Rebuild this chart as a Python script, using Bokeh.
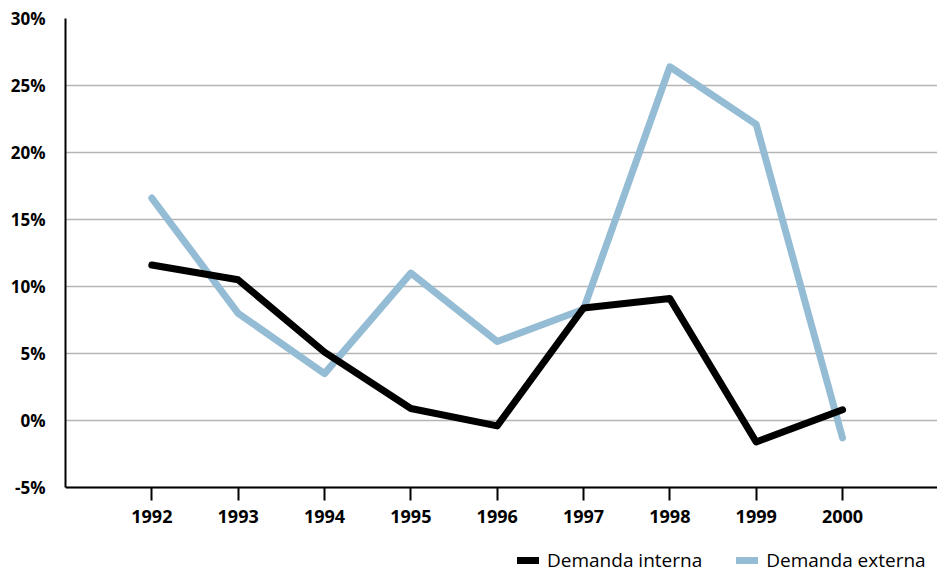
from bokeh.plotting import figure
from bokeh.models import FixedTicker, PrintfTickFormatter, Legend, LegendItem
from bokeh.embed import file_html
from bokeh.resources import INLINE

years = [1992, 1993, 1994, 1995, 1996, 1997, 1998, 1999, 2000]
demanda_interna = [11.6, 10.5, 5.1, 0.9, -0.4, 8.4, 9.1, -1.6, 0.8]
demanda_externa = [16.6, 8.0, 3.5, 11.0, 5.9, 8.3, 26.4, 22.1, -1.3]
y_ticks = [-5, 0, 5, 10, 15, 20, 25, 30]

FONT = "Open Sans"

# frame extends below the -5% baseline to leave room for tick labels and legend
p = figure(width=937, height=576, x_range=(1991, 2001.1), y_range=(-11.64, 30),
           output_backend="svg", toolbar_location=None,
           min_border_left=65, min_border_top=18, min_border_right=0, min_border_bottom=0)
p.outline_line_color = None
p.background_fill_color = "white"

r_ext = p.line(years, demanda_externa, line_color="#94bcd4", line_width=7,
               line_cap="round", line_join="round")
r_int = p.line(years, demanda_interna, line_color="black", line_width=7,
               line_cap="round", line_join="round")

p.xgrid.grid_line_color = None
p.ygrid.ticker = FixedTicker(ticks=y_ticks)
p.ygrid.grid_line_color = "#b5b5b5"
p.ygrid.grid_line_width = 1.5

p.xaxis.fixed_location = -5
p.xaxis.ticker = FixedTicker(ticks=years)
p.xaxis.major_tick_out = 13
p.xaxis.major_tick_in = 0
p.xaxis.minor_tick_line_color = None
p.xaxis.axis_line_width = 2
p.xaxis.major_tick_line_width = 2
p.xaxis.major_label_standoff = 9
p.xaxis.major_label_text_font = FONT
p.xaxis.major_label_text_font_style = "bold"
p.xaxis.major_label_text_font_size = "18px"
p.xaxis.major_label_text_color = "black"

p.yaxis.ticker = FixedTicker(ticks=y_ticks)
p.yaxis.bounds = (-5, 30)
p.yaxis.formatter = PrintfTickFormatter(format="%d%%")
p.yaxis.major_tick_out = 0
p.yaxis.major_tick_in = 0
p.yaxis.minor_tick_line_color = None
p.yaxis.axis_line_width = 2
p.yaxis.major_label_standoff = 20
p.yaxis.major_label_text_font = FONT
p.yaxis.major_label_text_font_style = "bold"
p.yaxis.major_label_text_font_size = "17px"
p.yaxis.major_label_text_color = "black"

legend = Legend(items=[LegendItem(label="Demanda interna", renderers=[r_int]),
                       LegendItem(label="Demanda externa", renderers=[r_ext])],
                orientation="horizontal", location=(452, 3),
                label_text_font=FONT, label_text_font_size="19px",
                label_text_color="black",
                glyph_width=22, glyph_height=16, label_standoff=8, spacing=34,
                padding=0, margin=0, border_line_color=None,
                background_fill_alpha=0)
p.add_layout(legend)

open("out.html", "w").write(file_html(p, INLINE))
